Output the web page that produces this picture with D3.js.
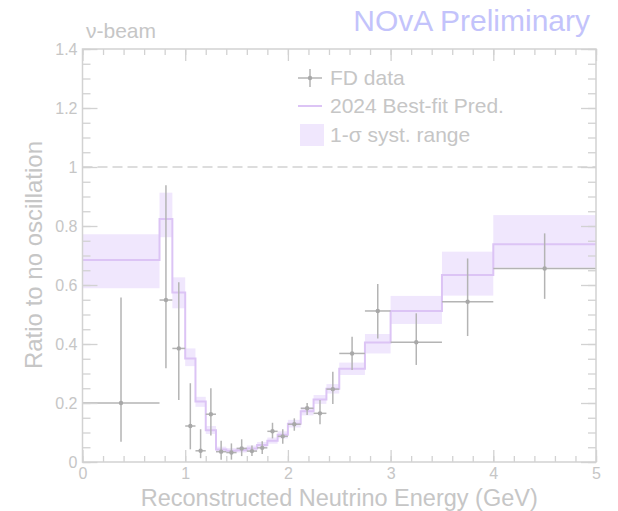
<!DOCTYPE html>
<html>
<head>
<meta charset="utf-8">
<script src="https://cdn.jsdelivr.net/npm/d3@7"></script>
<style>
  body { margin: 0; background: #fff; }
  svg { display: block; font-family: "Liberation Sans", Arial, sans-serif; }
</style>
</head>
<body>
<div id="chart"></div>
<script>
// bin edges (GeV)
let binEdges = [0, 0.75, 0.875, 1.0, 1.1, 1.2, 1.3, 1.4, 1.5, 1.6, 1.7, 1.8, 1.9, 2.0,
                2.125, 2.25, 2.375, 2.5, 2.75, 3.0, 3.5, 4.0, 5.0];

// FD data ratio and error bar ends
let dataValue = [0.20, 0.549, 0.385, 0.122, 0.038, 0.162, 0.035, 0.032, 0.046, 0.037, 0.048,
                 0.104, 0.087, 0.128, 0.182, 0.165, 0.247, 0.368, 0.512, 0.406, 0.543, 0.656];
let dataHigh  = [0.558, 0.938, 0.609, 0.267, 0.111, 0.25, 0.072, 0.063, 0.077, 0.056, 0.07,
                 0.133, 0.111, 0.148, 0.2, 0.21, 0.306, 0.425, 0.603, 0.504, 0.69, 0.775];
let dataLow   = [0.069, 0.318, 0.21, 0.043, 0.013, 0.09, 0.008, 0.008, 0.02, 0.02, 0.027,
                 0.08, 0.062, 0.106, 0.159, 0.128, 0.197, 0.312, 0.419, 0.329, 0.427, 0.553];

// 2024 best-fit prediction and 1-sigma syst. band
let predValue = [0.685, 0.824, 0.575, 0.351, 0.205, 0.108, 0.042, 0.038, 0.04, 0.046, 0.058,
                 0.072, 0.092, 0.13, 0.172, 0.212, 0.248, 0.316, 0.405, 0.512, 0.634, 0.738];
let bandHigh  = [0.772, 0.913, 0.626, 0.385, 0.221, 0.122, 0.052, 0.047, 0.049, 0.056, 0.068,
                 0.083, 0.104, 0.143, 0.186, 0.227, 0.264, 0.337, 0.434, 0.563, 0.713, 0.837];
let bandLow   = [0.589, 0.762, 0.521, 0.325, 0.187, 0.095, 0.033, 0.03, 0.032, 0.037, 0.048,
                 0.062, 0.08, 0.117, 0.158, 0.197, 0.232, 0.295, 0.368, 0.468, 0.564, 0.659];

let xTicks = [0, 1, 2, 3, 4, 5];
let yTicks = [0, 0.2, 0.4, 0.6, 0.8, 1, 1.2, 1.4];
let yTickLabels = ["0", "0.2", "0.4", "0.6", "0.8", "1", "1.2", "1.4"];

let legendLabels = ["FD data", "2024 Best-fit Pred.", "1-\u03c3 syst. range"];

let width = 618;
let height = 511;
let margin = { top: 49, bottom: 49, left: 82.5, right: 22 };

let axisColor = "#d2d2d2";
let textColor = "#c6c6c6";
let dataColor = "#b4b4b4";
let predColor = "#dcc4f5";
let bandColor = "#f0e7fd";

let bins = binEdges.slice(0, -1).map((lo, i) => ({
    lo: lo, hi: binEdges[i + 1],
    val: dataValue[i], up: dataHigh[i], dn: dataLow[i],
    pred: predValue[i], bhi: bandHigh[i], blo: bandLow[i]
}));

let svg = d3.select("#chart")
    .append("svg")
    .attr("width", width)
    .attr("height", height);

let x = d3.scaleLinear()
    .domain([0, 5])
    .range([margin.left, width - margin.right]);

let y = d3.scaleLinear()
    .domain([0, 1.4])
    .range([height - margin.bottom, margin.top]);

// syst band
svg.append("g")
    .attr("fill", bandColor)
    .selectAll("rect")
    .data(bins)
    .join("rect")
        .attr("x", d => x(d.lo))
        .attr("width", d => x(d.hi) - x(d.lo))
        .attr("y", d => y(d.bhi))
        .attr("height", d => y(d.blo) - y(d.bhi));

// prediction step line
let stepPts = bins.map(d => [d.lo, d.pred]);
stepPts.push([binEdges[binEdges.length - 1], predValue[predValue.length - 1]]);
svg.append("path")
    .datum(stepPts)
    .attr("fill", "none")
    .attr("stroke", predColor)
    .attr("stroke-width", 2)
    .attr("d", d3.line().x(d => x(d[0])).y(d => y(d[1])).curve(d3.curveStepAfter));

// no-oscillation line
svg.append("line")
    .attr("x1", x(0)).attr("x2", x(5))
    .attr("y1", y(1)).attr("y2", y(1))
    .attr("stroke", axisColor)
    .attr("stroke-width", 1.6)
    .attr("stroke-dasharray", "10,5");

// data points
let pts = svg.append("g")
    .attr("stroke", dataColor)
    .attr("stroke-width", 1.5)
    .selectAll("g")
    .data(bins)
    .join("g");

pts.append("line")
    .attr("x1", d => x(d.lo)).attr("x2", d => x(d.hi))
    .attr("y1", d => y(d.val)).attr("y2", d => y(d.val));

pts.append("line")
    .attr("x1", d => x((d.lo + d.hi) / 2)).attr("x2", d => x((d.lo + d.hi) / 2))
    .attr("y1", d => y(d.up)).attr("y2", d => y(d.dn));

pts.append("circle")
    .attr("cx", d => x((d.lo + d.hi) / 2))
    .attr("cy", d => y(d.val))
    .attr("r", 2.2)
    .attr("fill", "#a8a8a8")
    .attr("stroke", "none");

// axes: major and minor ticks, mirrored on top/right
function styleAxis(g) {
    g.select(".domain").remove();
    g.selectAll(".tick line").attr("stroke", axisColor).attr("stroke-width", 1.3);
    g.selectAll(".tick text").attr("fill", textColor).attr("font-size", "16px");
}

let xMinor = d3.range(0, 5.001, 0.2);
let yMinor = d3.range(0, 1.4001, 0.05);

svg.append("g")
    .attr("transform", `translate(0, ${y(0)})`)
    .call(d3.axisBottom(x).tickValues(xTicks).tickFormat(d3.format("d")).tickSize(-12).tickPadding(6))
    .call(styleAxis);
svg.append("g")
    .attr("transform", `translate(0, ${y(0)})`)
    .call(d3.axisBottom(x).tickValues(xMinor).tickFormat("").tickSize(-6))
    .call(styleAxis);
svg.append("g")
    .attr("transform", `translate(0, ${y(1.4)})`)
    .call(d3.axisTop(x).tickValues(xTicks).tickFormat("").tickSize(-12))
    .call(styleAxis);
svg.append("g")
    .attr("transform", `translate(0, ${y(1.4)})`)
    .call(d3.axisTop(x).tickValues(xMinor).tickFormat("").tickSize(-6))
    .call(styleAxis);

svg.append("g")
    .attr("transform", `translate(${x(0)}, 0)`)
    .call(d3.axisLeft(y).tickValues(yTicks).tickFormat((d, i) => yTickLabels[i]).tickSize(-15).tickPadding(5))
    .call(styleAxis);
svg.append("g")
    .attr("transform", `translate(${x(0)}, 0)`)
    .call(d3.axisLeft(y).tickValues(yMinor).tickFormat("").tickSize(-8))
    .call(styleAxis);
svg.append("g")
    .attr("transform", `translate(${x(5)}, 0)`)
    .call(d3.axisRight(y).tickValues(yTicks).tickFormat("").tickSize(-15))
    .call(styleAxis);
svg.append("g")
    .attr("transform", `translate(${x(5)}, 0)`)
    .call(d3.axisRight(y).tickValues(yMinor).tickFormat("").tickSize(-8))
    .call(styleAxis);

// frame
svg.append("rect")
    .attr("x", x(0)).attr("y", y(1.4))
    .attr("width", x(5) - x(0)).attr("height", y(0) - y(1.4))
    .attr("fill", "none")
    .attr("stroke", axisColor)
    .attr("stroke-width", 1.5);

// axis titles
svg.append("text")
    .attr("x", (x(0) + x(5)) / 2)
    .attr("y", 506)
    .attr("text-anchor", "middle")
    .attr("fill", textColor)
    .attr("font-size", "23.5px")
    .text("Reconstructed Neutrino Energy (GeV)");

svg.append("text")
    .attr("transform", "rotate(-90)")
    .attr("x", -255)
    .attr("y", 42)
    .attr("text-anchor", "middle")
    .attr("fill", textColor)
    .attr("font-size", "24px")
    .text("Ratio to no oscillation");

// header texts
svg.append("text")
    .attr("x", 86).attr("y", 38)
    .attr("fill", textColor)
    .attr("font-size", "21px")
    .text("\u03bd-beam");

svg.append("text")
    .attr("x", 590).attr("y", 31)
    .attr("text-anchor", "end")
    .attr("fill", "#c3c3fb")
    .attr("font-size", "30px")
    .text("NOvA Preliminary");

// legend
let leg = svg.append("g");
let legY = [78, 106, 135];
leg.append("line").attr("x1", 298).attr("x2", 322).attr("y1", legY[0]).attr("y2", legY[0])
    .attr("stroke", dataColor).attr("stroke-width", 1.5);
leg.append("line").attr("x1", 310).attr("x2", 310).attr("y1", legY[0] - 9).attr("y2", legY[0] + 9)
    .attr("stroke", dataColor).attr("stroke-width", 1.5);
leg.append("circle").attr("cx", 310).attr("cy", legY[0]).attr("r", 2.2).attr("fill", "#a8a8a8");
leg.append("line").attr("x1", 298).attr("x2", 322).attr("y1", legY[1]).attr("y2", legY[1])
    .attr("stroke", predColor).attr("stroke-width", 2);
leg.append("rect").attr("x", 300).attr("y", legY[2] - 11).attr("width", 24).attr("height", 22)
    .attr("fill", bandColor);

leg.selectAll("text")
    .data(legendLabels)
    .join("text")
        .attr("x", 330)
        .attr("y", (d, i) => legY[i] + 7)
        .attr("fill", textColor)
        .attr("font-size", "21px")
        .text(d => d);
</script>
</body>
</html>
